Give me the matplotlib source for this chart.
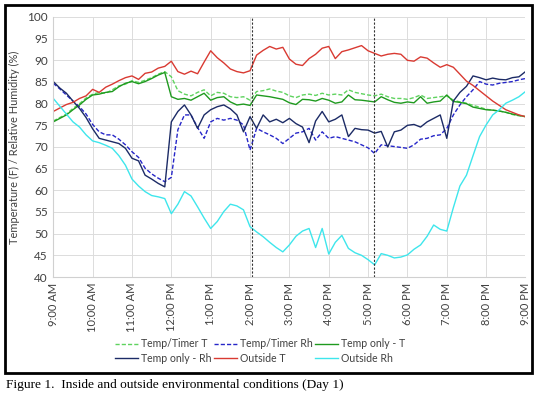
import matplotlib
matplotlib.use("Agg")
import matplotlib.pyplot as plt
from matplotlib.patches import Rectangle

plt.rcParams['font.family'] = ['Lato', 'DejaVu Sans']

# --- data: readings every 10 minutes from 9:00 AM (hours after 9 AM) ---
hours = [k / 6 for k in range(73)]

timer_t = [76.0, 76.8, 77.6, 78.9, 80.0, 81.3, 82.2, 82.6, 82.4, 83.2, 84.1, 84.5,
           85.3, 84.9, 85.4, 86.0, 86.8, 87.4, 86.2, 83.0, 82.2, 81.8, 82.6, 83.2,
           81.8, 82.6, 82.4, 81.6, 81.4, 81.6, 80.8, 82.8, 83.0, 83.4, 82.9, 82.6,
           81.8, 81.4, 82.0, 82.2, 81.9, 82.4, 82.0, 82.2, 82.0, 83.2, 82.6, 82.3,
           82.0, 81.8, 82.2, 81.6, 81.2, 81.2, 81.0, 81.4, 82.0, 81.2, 81.4, 81.6,
           81.8, 80.8, 80.4, 80.1, 79.6, 79.2, 78.7, 78.5, 78.3, 78.0, 77.5, 77.2, 77.0]

timer_rh = [84.7, 83.4, 82.0, 80.6, 79.3, 77.6, 75.2, 73.5, 72.8, 72.8, 71.8, 70.5,
            68.9, 67.6, 65.1, 63.8, 62.8, 62.0, 63.0, 74.0, 77.4, 77.4, 74.5, 72.0,
            75.8, 76.6, 76.2, 76.6, 76.2, 75.1, 69.3, 74.3, 73.5, 72.8, 72.0, 70.8,
            72.0, 73.2, 73.5, 74.3, 71.6, 73.5, 72.0, 72.4, 72.0, 71.6, 71.2, 70.5,
            69.8, 68.5, 70.5, 70.3, 70.1, 69.9, 69.7, 70.5, 71.8, 72.0, 72.6, 72.8,
            74.3, 77.4, 79.7, 81.6, 83.2, 85.1, 84.5, 84.3, 84.7, 84.9, 85.1, 85.5, 85.8]

only_t = [75.8, 76.6, 77.4, 78.6, 79.7, 81.0, 82.0, 82.2, 82.6, 82.8, 83.9, 84.7,
          85.1, 84.6, 85.1, 85.8, 86.6, 87.2, 81.6, 81.0, 81.2, 80.8, 81.6, 82.4,
          80.8, 81.4, 81.6, 80.4, 79.7, 79.9, 79.6, 82.0, 81.8, 81.6, 81.3, 81.0,
          80.2, 79.8, 81.0, 80.9, 80.6, 81.2, 80.8, 80.1, 80.4, 82.0, 80.9, 80.8,
          80.6, 80.4, 81.6, 80.9, 80.3, 80.1, 80.4, 80.2, 81.6, 80.1, 80.4, 80.6,
          82.0, 80.5, 80.3, 80.0, 79.2, 78.9, 78.6, 78.5, 78.3, 78.0, 77.6, 77.3, 77.0]

only_rh = [85.1, 83.6, 82.4, 80.6, 78.9, 76.8, 74.2, 72.0, 71.6, 71.2, 70.8, 69.7,
           67.4, 66.8, 63.5, 62.6, 61.6, 60.8, 75.8, 78.2, 79.7, 77.4, 74.3, 77.4,
           78.6, 79.3, 79.7, 78.8, 77.4, 73.5, 77.0, 74.3, 77.4, 75.8, 76.4, 75.6,
           76.6, 75.4, 74.6, 71.0, 76.0, 78.2, 75.8, 76.4, 77.4, 72.4, 74.3, 74.0,
           73.9, 73.2, 73.6, 70.0, 73.5, 73.9, 75.0, 75.2, 74.6, 75.8, 76.6, 77.4,
           72.0, 80.6, 82.6, 84.0, 86.4, 86.0, 85.5, 85.9, 85.6, 85.5, 86.0, 86.2, 87.4]

out_t = [78.2, 79.0, 79.8, 80.3, 81.2, 81.8, 83.3, 82.6, 83.8, 84.5, 85.3, 86.0,
         86.4, 85.6, 87.0, 87.3, 88.2, 88.6, 89.8, 87.4, 86.8, 87.5, 86.9, 89.6,
         92.2, 90.6, 89.4, 88.0, 87.4, 87.1, 87.6, 91.2, 92.3, 93.2, 92.6, 93.0,
         90.3, 89.1, 88.8, 90.4, 91.4, 92.8, 93.2, 90.4, 92.0, 92.4, 92.9, 93.4,
         92.2, 91.6, 91.0, 91.4, 91.6, 91.4, 90.0, 89.8, 90.8, 90.5, 89.4, 88.4,
         89.0, 88.4, 86.8, 85.2, 84.2, 83.0, 81.8, 80.6, 79.6, 78.6, 78.0, 77.4, 77.0]

out_rh = [81.2, 79.4, 77.6, 75.8, 74.6, 72.8, 71.4, 71.0, 70.4, 69.7, 68.0, 65.8,
          62.6, 61.0, 59.7, 58.8, 58.5, 58.1, 54.6, 56.8, 59.7, 58.7, 56.2, 53.6,
          51.2, 52.8, 55.1, 56.8, 56.4, 55.5, 51.6, 50.4, 49.3, 48.0, 46.8, 45.8,
          47.4, 49.4, 50.6, 51.2, 46.8, 51.2, 45.3, 48.0, 49.6, 46.6, 45.6, 45.0,
          44.0, 42.8, 45.4, 45.0, 44.4, 44.6, 45.1, 46.4, 47.4, 49.4, 52.0, 51.0,
          50.6, 56.0, 61.0, 63.5, 68.0, 72.4, 75.1, 77.4, 78.6, 80.1, 80.8, 81.6, 82.8]

tick_labels = ['9:00 AM', '10:00 AM', '11:00 AM', '12:00 PM', '1:00 PM', '2:00 PM',
               '3:00 PM', '4:00 PM', '5:00 PM', '6:00 PM', '7:00 PM', '8:00 PM', '9:00 PM']
markers_at = [5.05, 8.15]   # dashed event lines (~2:03 PM and ~5:09 PM)

fig = plt.figure(figsize=(5.36, 3.96), dpi=100)
ax = fig.add_axes([0.0994, 0.3005, 0.881, 0.6566])

lw = 1.0
h1, = ax.plot(hours, timer_t, color='#5fd35f', linestyle=(0, (3, 1.5)), linewidth=lw, label='Temp/Timer T')
h2, = ax.plot(hours, timer_rh, color='#2626c8', linestyle=(0, (3, 1.5)), linewidth=lw, label='Temp/Timer Rh')
h3, = ax.plot(hours, only_t, color='#1f9a1f', linewidth=lw, label='Temp only - T')
h4, = ax.plot(hours, only_rh, color='#1c2b66', linewidth=lw, label='Temp only - Rh')
h5, = ax.plot(hours, out_t, color='#d93a32', linewidth=lw, label='Outside T')
h6, = ax.plot(hours, out_rh, color='#3ee6ec', linewidth=lw, label='Outside Rh')

for m in markers_at:
    ax.axvline(m, color='#333333', linestyle=(0, (2, 1.5)), linewidth=0.8)

ax.set_xlim(0, 12)
ax.set_ylim(40, 100)
ax.set_yticks(range(40, 101, 5))
ax.set_xticks(range(13))
ax.set_xticklabels(tick_labels, rotation=90, fontsize=8, color='#404040')
ax.tick_params(axis='y', labelsize=8.5, labelcolor='#404040', length=0, pad=4)
ax.tick_params(axis='x', length=0, pad=4)
ax.grid(True, color='#dcdcdc', linewidth=0.7)
ax.set_axisbelow(True)
for s in ['top', 'right']:
    ax.spines[s].set_visible(False)
for s in ['left', 'bottom']:
    ax.spines[s].set_color('#d0d0d0')
ax.set_ylabel('Temperature (F) / Relative Humidity (%)', fontsize=7.9, color='#404040', labelpad=5)

# legend fills column-wise, so order handles to give the two rows of the original
handles = [h1, h4, h2, h5, h3, h6]
fig.legend(handles, [h.get_label() for h in handles], loc='center', ncol=3,
           bbox_to_anchor=(0.485, 0.113), frameon=False, fontsize=7.6,
           handlelength=2.2, handletextpad=0.3, columnspacing=0.2, labelspacing=0.35,
           labelcolor='#404040')

# outer frame of the chart and figure caption
fig.patches.append(Rectangle((0.009, 0.058), 0.983, 0.93, transform=fig.transFigure,
                             fill=False, edgecolor='black', linewidth=2))
fig.text(0.012, 0.028, 'Figure 1.  Inside and outside environmental conditions (Day 1)',
         family='Liberation Serif', fontsize=9.6, va='center')

fig.savefig('out.png', dpi=100)
